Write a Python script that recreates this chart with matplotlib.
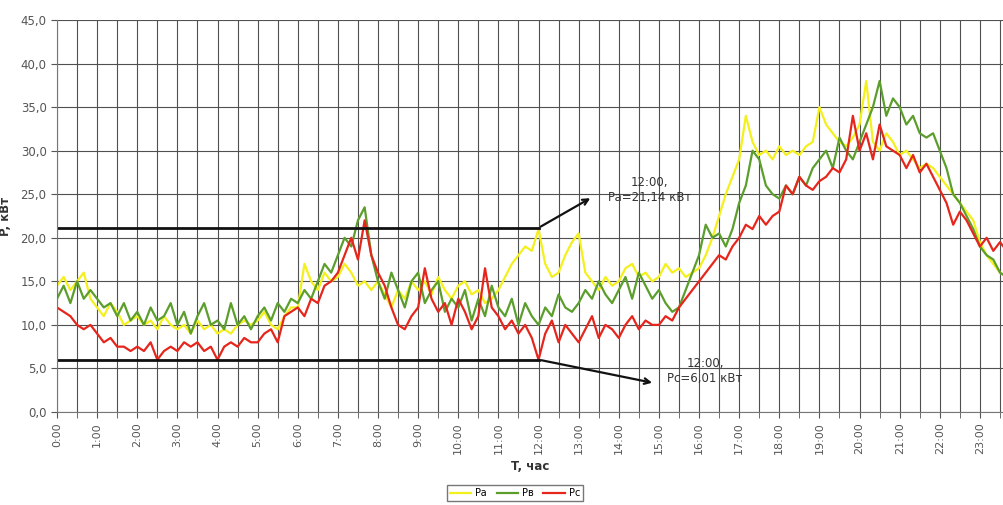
# Daily load curves of the three phases (Pa, Pв, Pc), 10 minute steps
import numpy as np, matplotlib
matplotlib.use('Agg')
import matplotlib.pyplot as plt

# Phase A, kW (each row = one hour, 6 values per hour)
pa = [14.5, 15.5, 14, 15, 16, 13,
      12, 11, 12.5, 11.5, 10, 10.5,
      11, 10, 10.5, 9.5, 11, 10,
      9.5, 10, 9, 10.5, 9.5, 10,
      9, 9.5, 9, 10, 10.5, 10,
      10.5, 11.5, 10, 9.5, 11, 12,
      12, 17, 15, 14, 16, 15,
      15.5, 17, 16, 14.5, 15, 14,
      15, 13.5, 12, 14, 13, 15,
      14, 15, 13.5, 15.5, 14, 13,
      14.5, 15, 13.5, 14, 12.5, 13,
      14, 15.5, 17, 18, 19, 18.5,
      21, 17, 15.5, 16, 18, 19.5,
      20.5, 16, 15, 14, 15.5, 14.5,
      15, 16.5, 17, 15.5, 16, 15,
      15.5, 17, 16, 16.5, 15.5, 16,
      16.5, 18, 20, 22.5, 25, 27,
      29, 34, 31, 29.5, 30, 29,
      30.5, 29.5, 30, 29.5, 30.5, 31,
      35, 33, 32, 31, 30.5, 31.5,
      33, 38, 31, 30, 32, 31,
      29.5, 30, 29, 28, 28.5, 28,
      27, 26, 25, 24, 23, 22,
      19.5, 18, 17, 16, 15.5, 15]

# Phase B, kW
pb = [13, 14.5, 12.5, 15, 13, 14,
      13, 12, 12.5, 11, 12.5, 10.5,
      11.5, 10, 12, 10.5, 11, 12.5,
      10, 11.5, 9, 11, 12.5, 10,
      10.5, 9.5, 12.5, 10, 11, 9.5,
      11, 12, 10.5, 12.5, 11.5, 13,
      12.5, 14, 13, 15, 17, 16,
      18, 20, 19, 22, 23.5, 18,
      15, 13, 16, 14, 12, 15,
      16, 12.5, 14, 15, 11.5, 13,
      12, 14, 10.5, 13, 11, 14.5,
      12, 11, 13, 10, 12.5, 11,
      10, 12, 11, 13.5, 12, 11.5,
      12.5, 14, 13, 15, 13.5, 12.5,
      14, 15.5, 13, 16, 14.5, 13,
      14, 12.5, 11.5, 12, 14, 16,
      18, 21.5, 20, 20.5, 19, 21,
      24, 26, 30, 29, 26, 25,
      24.5, 26, 25, 27, 26, 28,
      29, 30, 28, 31.5, 30, 29,
      31, 33, 35, 38, 34, 36,
      35, 33, 34, 32, 31.5, 32,
      30, 28, 25, 24, 22.5, 21,
      19, 18, 17.5, 16, 15.5, 15]

# Phase C, kW
pc = [12, 11.5, 11, 10, 9.5, 10,
      9, 8, 8.5, 7.5, 7.5, 7,
      7.5, 7, 8, 6, 7, 7.5,
      7, 8, 7.5, 8, 7, 7.5,
      6, 7.5, 8, 7.5, 8.5, 8,
      8, 9, 9.5, 8, 11, 11.5,
      12, 11, 13, 12.5, 14.5, 15,
      16, 18, 20, 17.5, 22, 18,
      16, 14.5, 12, 10, 9.5, 11,
      12, 16.5, 13, 11.5, 12.5, 10,
      13, 11.5, 9.5, 11, 16.5, 12,
      11, 9.5, 10.5, 9, 10, 8.5,
      6, 9, 10.5, 8, 10, 9,
      8, 9.5, 11, 8.5, 10, 9.5,
      8.5, 10, 11, 9.5, 10.5, 10,
      10, 11, 10.5, 12, 13, 14,
      15, 16, 17, 18, 17.5, 19,
      20, 21.5, 21, 22.5, 21.5, 22.5,
      23, 26, 25, 27, 26, 25.5,
      26.5, 27, 28, 27.5, 29, 34,
      30, 32, 29, 33, 30.5, 30,
      29.5, 28, 29.5, 27.5, 28.5, 27,
      25.5, 24, 21.5, 23, 22, 20.5,
      19, 20, 18.5, 19.5, 18.5, 18]

hours = np.arange(len(pa)) / 6.0
hour_labels = ['%d:00' % h for h in range(24)]
y_ticks = [0, 5, 10, 15, 20, 25, 30, 35, 40, 45]

# Marked values at 12:00
pa_noon = 21.14
pc_noon = 6.01

fig = plt.figure(figsize=(10.04, 5.05), dpi=100)
ax = fig.add_axes([57/1004, 93/505, 947/1004, 392/505])

ax.plot(hours, pa, color='#f4f01c', lw=1.6, label='Pa')
ax.plot(hours, pb, color='#5c9e2c', lw=1.6, label='Pв')
ax.plot(hours, pc, color='#e6261c', lw=1.6, label='Pc')

# horizontal markers with arrows
ax.plot([0, 12], [pa_noon, pa_noon], color='#111111', lw=2)
ax.plot([0, 12], [pc_noon, pc_noon], color='#111111', lw=2)
ax.annotate('', xy=(13.35, 24.7), xytext=(12, pa_noon),
            arrowprops=dict(arrowstyle='->', color='#111111', lw=1.6))
ax.annotate('', xy=(14.9, 3.3), xytext=(12, pc_noon),
            arrowprops=dict(arrowstyle='->', color='#111111', lw=1.6))
ax.text(14.76, 25.5, '12:00,\nPa=21,14 кВт', ha='center', va='center',
        fontsize=8.5, color='#333333', linespacing=1.2)
ax.text(16.15, 4.7, '12:00,\nPc=6,01 кВт', ha='center', va='center',
        fontsize=8.5, color='#333333', linespacing=1.2)

ax.set_xlim(0, 23.6)
ax.set_ylim(0, 45)
ax.set_xticks(range(24))
ax.set_xticklabels(hour_labels, rotation=90, fontsize=8, color='#555555')
ax.set_xticks(np.arange(0, 24, 0.5), minor=True)
ax.set_yticks(y_ticks)
ax.yaxis.set_major_formatter(matplotlib.ticker.FuncFormatter(lambda v, p: ('%.1f' % v).replace('.', ',')))
ax.tick_params(axis='y', labelsize=8.5, labelcolor='#555555')
ax.grid(True, which='both', axis='x', color='#505050', lw=0.8)
ax.grid(True, which='major', axis='y', color='#505050', lw=0.8)
ax.tick_params(which='both', length=4, color='#555555')
for s in ['top', 'right']:
    ax.spines[s].set_visible(False)
for s in ['left', 'bottom']:
    ax.spines[s].set_color('#777777')
ax.set_axisbelow(True)

ax.set_ylabel('P, кВт', fontsize=8.5, fontweight='bold', color='#333333', labelpad=6)
ax.set_xlabel('T, час', fontsize=8.5, fontweight='bold', color='#333333', labelpad=4)

leg = fig.legend(loc='center', bbox_to_anchor=(515/1004, 1 - 493/505), ncol=3,
                 fontsize=7, frameon=True, fancybox=False, handlelength=2.2,
                 columnspacing=1.0, borderpad=0.3, handletextpad=0.4)
leg.get_frame().set_edgecolor('#555555')

fig.savefig('out.png', dpi=100)
